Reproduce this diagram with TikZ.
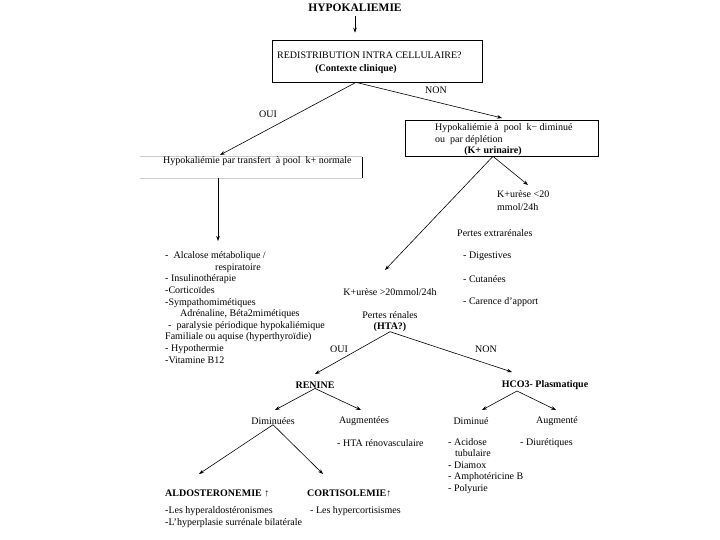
\documentclass[tikz,border=0pt]{standalone}
\usepackage{fontspec}
\setmainfont{Liberation Serif}
\usetikzlibrary{arrows.meta}
\begin{document}
\begin{tikzpicture}[x=1pt,y=-1pt,
  txt/.style={inner sep=0pt, font=\fontsize{10}{11.6}\selectfont},
  btxt/.style={inner sep=0pt, font=\fontsize{10}{11.6}\selectfont\bfseries},
  lt/.style={txt, anchor=west},
  arr/.style={line width=0.6pt, -{Stealth[length=5pt,width=3.6pt]}},
  boxstyle/.style={draw, line width=0.7pt, inner sep=0pt},
]
\useasboundingbox[fill=white] (0,0) rectangle (720,540);

% top
\node[inner sep=0pt, font=\fontsize{11.5}{13}\selectfont\bfseries] (hypo) at (355,8) {HYPOKALIEMIE};
\node[boxstyle, minimum width=210pt, minimum height=42pt] (redist) at (377,61) {};
\node[lt] (redl) at (277,55) {REDISTRIBUTION INTRA CELLULAIRE?};
\node[btxt] (ctx) at (356,69) {(Contexte clinique)};
\draw[arr, shorten <=4pt, shorten >=7pt] (hypo.south) -- (hypo.south |- redist.north);

\coordinate (rapex) at (ctx.south |- redist.south);
\coordinate (ttip) at (220,155);
\coordinate (ktip) at (502,118);
\draw[arr] (rapex) -- (ttip);
\draw[arr] (rapex) -- (ktip);
\node[txt] (oui1) at (268,114) {OUI};
\node[txt] (non1) at (436,90) {NON};

% transfer box
\node[inner sep=0pt, minimum width=222pt, minimum height=21pt] (trans) at (251,167.5) {};
\draw[black!20, line width=0.6pt] (trans.north west) -- (trans.north east) (trans.south west) -- (trans.south east);
\draw[line width=0.8pt] (trans.north east) -- (trans.south east);
\node[lt] (transt) at (163,161) {Hypokaliémie par transfert\ \ à pool\ \ k+ normale};
\coordinate (tdown) at (218,178);
\coordinate (ltip) at (218,241);
\draw[arr] (tdown) -- (ltip);

\node[txt, anchor=north west, align=left] (leftlist) at (165,251.5) {-\ \ Alcalose métabolique /\\
\hspace*{50pt}respiratoire\\
- Insulinothérapie\\
-Corticoïdes\\
-Sympathomimétiques\\
\hspace*{15pt}Adrénaline, Béta2mimétiques\\
\hspace*{3pt}-\ \ paralysie périodique hypokaliémique\\
Familiale ou aquise (hyperthyroïdie)\\
- Hypothermie\\
-Vitamine B12};

% K box
\node[boxstyle, minimum width=193pt, minimum height=36pt] (kbox) at (501.5,138) {};
\node[lt] (kl1) at (435,128) {Hypokaliémie à\ \ pool\ \ k− diminué};
\node[lt] (kl2) at (435,140) {ou\ \ par déplétion};
\node[btxt] (kurin) at (493,151) {(K+ urinaire)};
\coordinate (kapex) at (kurin.south |- kbox.south);
\coordinate (klowtip) at (528,185);
\coordinate (ksuptip) at (385,270);
\draw[arr] (kapex) -- (klowtip);
\draw[arr] (kapex) -- (ksuptip);

\node[txt, anchor=north west, align=left, font=\fontsize{10}{13}\selectfont] (kinf) at (497,190) {K+urèse <20\\ mmol/24h};
\node[lt] (pext) at (457,233) {Pertes extrarénales};
\node[lt] (dig) at (463,256) {- Digestives};
\node[lt] (cut) at (463,279) {- Cutanées};
\node[lt] (car) at (463,302) {- Carence d'apport};

\node[txt] (ksup) at (390,292) {K+urèse >20mmol/24h};
\node[txt] (pren) at (390,315) {Pertes rénales};
\node[btxt] (hta) at (390,327) {(HTA?)};

\node[btxt] (renine) at (315,385) {RENINE};
\node[btxt] (hco) at (545,385) {HCO3- Plasmatique};
\coordinate (rtip) at (315,374);
\coordinate (htip) at (512,372);
\draw[arr] (hta.south) -- (rtip);
\draw[arr] (hta.south) -- (htip);
\node[txt] (oui2) at (339,349) {OUI};
\node[txt] (non2) at (486,349) {NON};

% renine branches
\node[txt] (dimin) at (273,421) {Diminuées};
\node[txt] (augm) at (364,421) {Augmentées};
\node[lt] (htarv) at (337,443) {- HTA rénovasculaire};
\coordinate (dtip) at (275,410);
\coordinate (atip) at (361,410);
\draw[arr] (renine.south) -- (dtip);
\draw[arr] (renine.south) -- (atip);

% HCO3 branches
\node[txt] (dim2) at (471,421) {Diminué};
\node[txt] (aug2) at (557,421) {Augmenté};
\coordinate (hapex) at (517,391);
\coordinate (d2tip) at (482,410);
\coordinate (a2tip) at (556,410);
\draw[arr] (hapex) -- (d2tip);
\draw[arr] (hapex) -- (a2tip);
\node[txt, anchor=north west, align=left, font=\fontsize{10}{11.5}\selectfont] (acid) at (448,438) {- Acidose\\
\hspace*{7pt}tubulaire\\
- Diamox\\
- Amphotéricine B\\
- Polyurie};
\node[lt] (diur) at (520,443) {- Diurétiques};

% bottom
\node[btxt, anchor=west] (aldo) at (165,493) {ALDOSTERONEMIE ↑};
\node[btxt, anchor=west] (cort) at (307,493) {CORTISOLEMIE↑};
\coordinate (altip) at (199,474);
\coordinate (cotip) at (323,474);
\draw[arr] (dimin.south) -- (altip);
\draw[arr] (dimin.south) -- (cotip);
\node[lt] (al1) at (165,511) {-Les hyperaldostéronismes};
\node[lt] (al2) at (165,523) {-L'hyperplasie surrénale bilatérale};
\node[lt] (co1) at (310,511) {- Les hypercortisismes};
\end{tikzpicture}
\end{document}
